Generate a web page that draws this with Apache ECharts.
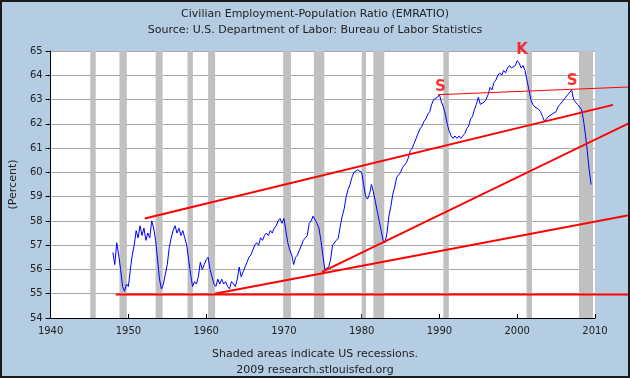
<!DOCTYPE html>
<html><head><meta charset="utf-8">
<script src="https://cdn.jsdelivr.net/npm/echarts@6/dist/echarts.min.js"></script>
<style>html,body{margin:0;padding:0;background:#B4CDE3}#c{width:630px;height:378px}</style>
</head><body><div id="c"></div>
<script>
// Quarterly Civilian Employment-Population Ratio, starting 1948 Q1
const startYear = 1948;
const emratio = [
 56.7,56.2,57.1,56.6, 56.0,55.3,55.1,55.4, 55.3,56.0,56.6,57.0, 57.6,57.3,57.8,57.4,
 57.7,57.2,57.5,57.3, 58.0,57.7,57.2,56.4, 55.6,55.2,55.4,55.8, 56.2,56.9,57.3,57.6,
 57.8,57.5,57.7,57.4, 57.6,57.3,57.0,56.4, 55.8,55.3,55.5,55.4, 55.7,56.3,56.0,56.2,
 56.4,56.5,56.0,55.7, 55.4,55.3,55.6,55.4, 55.6,55.4,55.5,55.3, 55.2,55.5,55.4,55.3,
 55.6,56.1,55.7,55.9, 56.1,56.3,56.5,56.6, 56.8,57.0,57.1,57.0, 57.3,57.2,57.4,57.5,
 57.4,57.6,57.5,57.7, 57.8,58.0,58.1,57.9, 58.1,57.6,57.1,56.8, 56.6,56.2,56.5,56.6,
 56.8,57.0,57.2,57.3, 57.4,57.9,58.0,58.2, 58.2,57.9,57.7,57.2, 56.6,56.0,56.0,56.1,
 56.4,57.0,57.0,57.2, 57.3,57.8,58.2,58.5, 59.0,59.3,59.5,59.8, 60.0,60.0,60.1,60.1,
 60.0,59.5,59.0,58.9, 59.1,59.5,59.2,58.8, 58.4,58.0,57.6,57.2, 57.1,57.5,58.2,58.6,
 59.1,59.4,59.8,59.9, 60.0,60.2,60.3,60.4, 60.6,60.9,61.0,61.2, 61.4,61.6,61.8,61.9,
 62.1,62.2,62.4,62.5, 62.8,63.0,63.0,63.1, 63.2,62.9,62.7,62.4, 62.0,61.7,61.5,61.4,
 61.5,61.4,61.5,61.4, 61.5,61.6,61.8,61.9, 62.2,62.3,62.6,62.8, 63.1,62.8,62.8,62.9,
 63.0,63.2,63.5,63.4, 63.7,63.8,64.0,64.1, 64.0,64.2,64.1,64.3, 64.4,64.3,64.3,64.4,
 64.6,64.5,64.3,64.4, 64.2,63.8,63.4,63.0, 62.8,62.7,62.7,62.6, 62.5,62.3,62.1,62.2,
 62.3,62.3,62.4,62.4, 62.5,62.7,62.8,62.9, 63.0,63.1,63.2,63.3, 63.4,63.0,63.0,62.8,
 62.8,62.6,62.2,61.6, 60.9,60.1,59.5
];
const recessionStart = [1945.1, 1948.85, 1953.5, 1957.6, 1960.25, 1969.9, 1973.85, 1980.0, 1981.5, 1990.5, 2001.2, 2007.95];
const recessionEnd   = [1945.8, 1949.8, 1954.4, 1958.3, 1961.15, 1970.9, 1975.2, 1980.55, 1982.9, 1991.2, 2001.9, 2009.75];
const trendStartYear  = [1948.9, 1952.6, 1975.2, 1961.5, 1990.0];
const trendStartValue = [54.97, 58.1, 55.9, 55.0, 63.2];
const trendEndYear    = [2014.2, 2012.3, 2014.5, 2014.5, 2014.5];
const trendEndValue   = [54.97, 62.78, 62.05, 58.25, 63.52];
const noteText  = ['S', 'K', 'S'];
const noteYear  = [1990.3, 2000.7, 2007.1];
const noteValue = [63.52, 65.04, 63.76];
const xMin = 1940, xMax = 2010, yMin = 54, yMax = 65;

const FONT = 'DejaVu Sans';
const W = 630;
const G = { left: 46, right: 35, top: 51, bottom: 60 };
// overlay axis with the same scale, extended to the right edge of the picture
const xMaxWide = xMin + (xMax - xMin) * (W - G.left) / (W - G.left - G.right);

const chart = echarts.init(document.getElementById('c'));
const lineData = emratio.map((v, i) => [startYear + i / 4, v]);
const series = [
  {
    type: 'line', data: [], silent: true, z: 1,
    markArea: {
      silent: true,
      itemStyle: { color: '#C0C0C0' },
      data: recessionStart.map((s, i) => [{ xAxis: s }, { xAxis: recessionEnd[i] }])
    }
  },
  {
    type: 'line', data: lineData, showSymbol: false, z: 3,
    lineStyle: { color: '#0000FF', width: 1 }
  }
];
trendStartYear.forEach((y, i) => {
  series.push({
    type: 'line', xAxisIndex: 1, yAxisIndex: 1, showSymbol: false, z: 4,
    data: [[y, trendStartValue[i]], [trendEndYear[i], trendEndValue[i]]],
    lineStyle: { color: '#FF0000', width: i === 4 ? 1 : 2 }
  });
});
series.push({
  type: 'scatter', xAxisIndex: 1, yAxisIndex: 1, clip: false, z: 5, symbolSize: 2,
  itemStyle: { color: 'rgba(0,0,0,0)' },
  data: noteYear.map((y, i) => ({ value: [y, noteValue[i]], name: noteText[i] })),
  label: { show: true, position: 'inside', formatter: p => p.name, color: '#FF0000', fontSize: 15, fontWeight: 'bold', fontFamily: FONT }
});

const txt = { fontFamily: FONT, fontSize: 11, fontWeight: 'normal', color: '#222' };
chart.setOption({
  backgroundColor: '#B4CDE3',
  animation: false,
  title: [
    { text: 'Civilian Employment-Population Ratio (EMRATIO)',
      subtext: 'Source: U.S. Department of Labor: Bureau of Labor Statistics',
      left: 'center', top: 4, itemGap: 5, textStyle: txt, subtextStyle: txt },
    { text: 'Shaded areas indicate US recessions.',
      subtext: '2009 research.stlouisfed.org',
      left: 'center', top: 344, itemGap: 5, textStyle: txt, subtextStyle: txt }
  ],
  graphic: [{ type: 'rect', shape: { x: 1, y: 1, width: 628, height: 376 }, style: { fill: null, stroke: '#1a1a1a', lineWidth: 2 }, z: 100 }],
  grid: [
    Object.assign({ show: true, backgroundColor: '#fff', borderWidth: 0 }, G),
    { left: G.left, right: 0, top: G.top, bottom: G.bottom, show: false }
  ],
  xAxis: [{
    type: 'value', min: xMin, max: xMax, interval: 10,
    axisLine: { lineStyle: { color: '#000', width: 1 } },
    axisTick: { inside: true, length: 4, lineStyle: { color: '#000' } },
    axisLabel: { fontFamily: FONT, fontSize: 10, color: '#222', margin: 8, formatter: v => String(v) },
    splitLine: { show: false }
  }, {
    type: 'value', gridIndex: 1, min: xMin, max: xMaxWide, show: false, splitLine: { show: false }
  }],
  yAxis: [{
    type: 'value', min: yMin, max: yMax, interval: 1,
    name: '(Percent)', nameLocation: 'middle', nameGap: 30,
    nameTextStyle: { fontFamily: FONT, fontSize: 11, color: '#222' },
    axisLine: { show: true, lineStyle: { color: '#000', width: 1 } },
    axisTick: { show: true, length: 5, lineStyle: { color: '#000' } },
    axisLabel: { fontFamily: FONT, fontSize: 10, color: '#222', margin: 8 },
    splitLine: { show: true, lineStyle: { color: '#A8A8A8', width: 1 } }
  }, {
    type: 'value', gridIndex: 1, min: yMin, max: yMax, show: false, splitLine: { show: false }
  }],
  series: series
});
</script></body></html>
